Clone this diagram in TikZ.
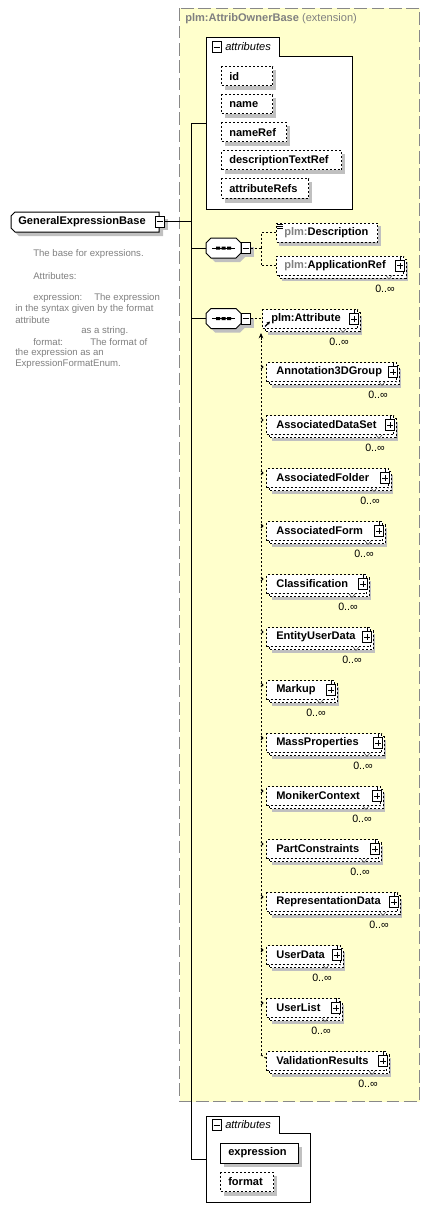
\documentclass[tikz,border=0pt]{standalone}
\usepackage{fontspec}
\setmainfont{Liberation Sans}
\usetikzlibrary{arrows.meta}
\definecolor{ybg}{RGB}{255,255,204}
\definecolor{bgray}{RGB}{136,136,136}
\definecolor{shd}{RGB}{192,192,192}
\definecolor{tgray}{RGB}{128,128,128}
\tikzset{
  lbl/.style={font=\fontsize{8.3}{10}\selectfont\bfseries, inner sep=0pt, text=black},
  ilbl/.style={font=\fontsize{8.3}{10}\selectfont\itshape, inner sep=0pt},
  occ/.style={font=\fontsize{8}{10}\selectfont, inner sep=0pt},
  dsc/.style={font=\fontsize{7.2}{8.25}\selectfont, text=tgray, inner sep=0pt, anchor=west},
  edash/.style={line width=0.75pt, dash pattern=on 1.5pt off 1.5pt},
  cdash/.style={line width=0.75pt, dash pattern=on 1.5pt off 1.5pt},
  ebox/.style={draw, edash, fill=white, inner sep=0pt, minimum height=14.25pt},
  sbox/.style={draw, line width=0.75pt, fill=white, inner sep=0pt, minimum height=15pt},
  icon/.style={draw, fill=white, line width=0.75pt, inner sep=0pt, minimum width=6.75pt, minimum height=8.25pt},
}
% plus icon: name, right edge x, cy
\newcommand\plusicon[3]{%
  \draw[line width=0.75pt] (#2-3,#3-10) -- (#2-3,#3-6);
  \node[icon] (#1) at (#2-3,#3) {};
  \draw[line width=0.75pt] (#2-6,#3) -- (#2,#3) (#2-3,#3-3) -- (#2-3,#3+3);
}
% minus icon: name, cx, cy
\newcommand\minusicon[3]{%
  \node[icon] (#1) at (#2,#3) {};
  \draw[line width=0.75pt] (#2-3,#3) -- (#2+3,#3);
}
% multiple element: name, L, cy, R, label, text x offset
\newcommand\melem[6]{%
  \fill[shd] (#2+6,#3-3.5) rectangle (#4+5,#3+15.5);
  \draw[edash, fill=white] (#2+3,#3-6.5) rectangle (#4+3,#3+12.5);
  \node[ebox, minimum width={(#4-#2)*0.75pt}, anchor=west] (#1) at (#2,#3) {};
  \node[lbl, anchor=west] (#1-t) at (#2+#6,#3) {#5};
  \plusicon{#1-p}{#4}{#3}
  \draw[line width=0.5pt, black!60] (#4-17,#3+10) -- (#4-14,#3+13.5) -- (#4-11,#3+10);
  \node[occ, anchor=east] (#1-o) at (#4-8,#3+23) {0..∞};
}
% substitution element: name, cy, R, label
\newcommand\subel[4]{%
  \melem{#1}{266}{#2}{#3}{#4}{10}
  \draw[line width=0.6pt] (261,#2-7) -- (263,#2-5) -- (261,#2-3);
}
% single attribute box: name, L, cy, R, label, style
\newcommand\attbox[6]{%
  \fill[shd] (#2+4,#3-6) rectangle (#4+4,#3+14);
  \node[#6, minimum width={(#4-#2)*0.75pt}, anchor=west] (#1) at (#2,#3) {};
  \node[lbl, anchor=west] (#1-t) at (#2+8,#3) {#5};
}
% sequence compositor: name, cy
\newcommand\seqnode[2]{%
  \fill[shd] (215,#2-6) -- (240,#2-6) -- (245,#2-1) -- (245,#2+9) -- (240,#2+14) -- (215,#2+14) -- (210,#2+9) -- (210,#2-1) -- cycle;
  \fill[shd] (245,#2-1) rectangle (254,#2+9);
  \draw[line width=0.75pt, fill=white] (211,#2-10) -- (236,#2-10) -- (241,#2-5) -- (241,#2+5) -- (236,#2+10) -- (211,#2+10) -- (206,#2+5) -- (206,#2-5) -- cycle;
  \node[inner sep=0pt, minimum width=26.25pt, minimum height=15pt] (#1) at (223.5,#2) {};
  \draw[line width=0.75pt] (212,#2) -- (235,#2);
  \fill (216,#2-1.5) rectangle (220,#2+1.5) (221.5,#2-1.5) rectangle (225.5,#2+1.5) (227,#2-1.5) rectangle (231,#2+1.5);
  \minusicon{#1-m}{245.5}{#2}
}
\begin{document}
\begin{tikzpicture}[x=0.75pt,y=-0.75pt]
\useasboundingbox (0,0) rectangle (431,1220);
\fill[white] (0,0) rectangle (431,1220);

% extension area
\draw[bgray, fill=ybg, line width=0.75pt, dash pattern=on 9.5pt off 3.5pt] (179.5,8.5) rectangle (419.5,1101.5);
\node[anchor=west, inner sep=0pt, text=tgray, font=\fontsize{8.3}{10}\selectfont] (ext) at (185,19) {\textbf{plm:AttribOwnerBase} (extension)};

% attributes panel 1
\draw[line width=0.75pt, fill=white] (206,209) -- (206,38) -- (279,38) -- (279,57) -- (352,57) -- (352,209) -- cycle;
\minusicon{ap1m}{216.5}{47.5}
\node[ilbl, anchor=west] (ap1t) at (225,47) {attributes};
\coordinate (ap1) at (206,124);
\attbox{aid}{221}{76.5}{272}{id}{ebox}
\attbox{aname}{221}{104.5}{272}{name}{ebox}
\attbox{anref}{221}{132.5}{286}{nameRef}{ebox}
\attbox{adesc}{221}{160.5}{341}{descriptionTextRef}{ebox}
\attbox{arefs}{221}{188.5}{308}{attributeRefs}{ebox}

% root element
\fill[shd] (19,216) -- (163,216) -- (163,236) -- (19,236) -- (15,232) -- (15,220) -- cycle;
\draw[line width=0.75pt, fill=white] (15,212) -- (159,212) -- (159,232) -- (15,232) -- (11,228) -- (11,216) -- cycle;
\node[lbl] (geb) at (82,222) {GeneralExpressionBase};
\fill[shd] (161,219) rectangle (168,230);
\minusicon{gebm}{159.5}{221.5}

% description
\node[dsc] (d1) at (33,254) {The base for expressions.};
\node[dsc] (d2) at (33,276) {Attributes:};
\node[dsc] (d3) at (33,298) {expression:};
\node[dsc] (d3b) at (94,298) {The expression};
\node[dsc] (d4) at (15,309) {in the syntax given by the format};
\node[dsc] (d5) at (15,320) {attribute};
\node[dsc] (d6) at (81,331) {as a string.};
\node[dsc] (d7) at (33,342) {format:};
\node[dsc] (d7b) at (90,342) {The format of};
\node[dsc] (d8) at (15,353) {the expression as an};
\node[dsc] (d9) at (15,364) {ExpressionFormatEnum.};

% trunk
\coordinate (tTop) at (191,124);
\coordinate (tBot) at (191,1159);
\coordinate (ap2) at (206,1159);
\draw[line width=0.75pt] (gebm.east) -- (gebm.east -| tTop);
\draw[line width=0.75pt] (tTop) -- (tBot) -- (ap2);
\draw[line width=0.75pt] (tTop) -- (ap1);

% sequence 1
\seqnode{seq1}{248}
\draw[line width=0.75pt] (seq1.west -| tTop) -- (206,248);
\fill[shd] (279,226) rectangle (381,246);
\node[ebox, minimum width=75.75pt, anchor=west] (desc) at (276,232.5) {};
\node[lbl, anchor=west] (desct) at (284,232.5) {\textcolor{tgray}{plm:}Description};
\draw[line width=0.6pt] (277,224.5) -- (283,224.5) (277,226.5) -- (283,226.5) (277,228.5) -- (283,228.5);
\melem{appref}{276}{265.5}{403}{\textcolor{tgray}{plm:}ApplicationRef}{8}
\coordinate (br1) at (261,248);
\draw[cdash] (seq1-m.east) -- (br1);
\draw[cdash] (desc.west) -| (br1);
\draw[cdash] (appref.west) -| (br1);

% sequence 2
\seqnode{seq2}{318.5}
\draw[line width=0.75pt] (seq2.west -| tTop) -- (206,318.5);
\melem{pattr}{262}{319}{357}{plm:Attribute}{9}
\draw[line width=0.9pt, -{Stealth[length=2.5pt,width=2.5pt]}] (265,326.5) -- (270,321.5);
\draw[cdash] (seq2-m.east) -- (pattr.west |- seq2-m.east);

% substitution group
\coordinate (sgTop) at (261,333);
\coordinate (sgBot) at (261,1055);
\draw[cdash] (sgBot) -- (261,339);
\draw[line width=0.75pt, -{Stealth[length=4pt,width=3.5pt]}] (261,340) -- (sgTop);
\subel{e1}{372}{396}{Annotation3DGroup}
\subel{e2}{425}{393}{AssociatedDataSet}
\subel{e3}{478}{388}{AssociatedFolder}
\subel{e4}{531}{382}{AssociatedForm}
\subel{e5}{584}{366}{Classification}
\subel{e6}{637}{370}{EntityUserData}
\subel{e7}{690}{334}{Markup}
\subel{e8}{743}{381}{MassProperties}
\subel{e9}{796}{380}{MonikerContext}
\subel{e10}{849}{378}{PartConstraints}
\subel{e11}{902}{397}{RepresentationData}
\subel{e12}{955}{340}{UserData}
\subel{e13}{1008}{339}{UserList}
\melem{e14}{266}{1061}{386}{ValidationResults}{10}
\draw[cdash] (sgBot) -- (e14.west |- 0,1058);

% attributes panel 2
\draw[line width=0.75pt, fill=white] (206,1202) -- (206,1116) -- (279,1116) -- (279,1133) -- (310,1133) -- (310,1202) -- cycle;
\minusicon{ap2m}{216.5}{1125}
\node[ilbl, anchor=west] (ap2t) at (225,1124.5) {attributes};
\attbox{aexpr}{220}{1153}{298}{expression}{sbox}
\attbox{aform}{220}{1182}{273}{format}{ebox}
\end{tikzpicture}
\end{document}
